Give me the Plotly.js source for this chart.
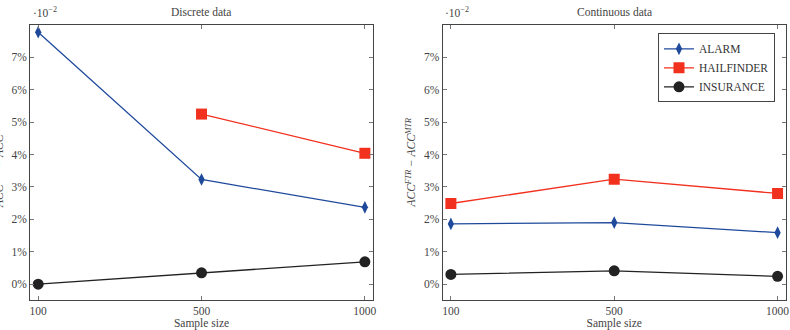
<!DOCTYPE html>
<html>
<head>
<meta charset="utf-8">
<script src="https://cdn.plot.ly/plotly-3.0.1.min.js"></script>
<style>html,body{margin:0;padding:0;background:#fff}#chart{width:790px;height:330px}</style>
</head>
<body>
<div id="chart"></div>
<script>
// Sample sizes (categorical x axis)
const sampleSizes = ['100', '500', '1000'];

// ACC^FTR - ACC^MTR, in units of 10^-2 (shown as %)
const discreteAlarm      = [7.78, 3.23, 2.37];
const discreteHailfinder = [null, 5.25, 4.04];
const discreteInsurance  = [0.00, 0.35, 0.69];

const continuousAlarm      = [1.86, 1.90, 1.59];
const continuousHailfinder = [2.49, 3.24, 2.80];
const continuousInsurance  = [0.30, 0.41, 0.24];

const yTicks = [0, 1, 2, 3, 4, 5, 6, 7];
const yTickText = yTicks.map(v => v + '%');

const seriesNames = ['ALARM', 'HAILFINDER', 'INSURANCE'];
const colors = ['#1f4a9c', '#f2301e', '#222222'];
const symbols = ['diamond-tall', 'square', 'circle'];
const markerSizes = [9, 11, 11];

const serif = 'Liberation Serif';

function makeTrace(i, y, xa, ya, showLegend) {
  return {
    type: 'scatter', mode: 'lines+markers',
    x: sampleSizes, y: y, name: seriesNames[i],
    xaxis: xa, yaxis: ya, showlegend: showLegend,
    line: {color: colors[i], width: 1.3},
    marker: {color: colors[i], symbol: symbols[i], size: markerSizes[i]},
    hoverinfo: 'x+y+name'
  };
}

const traces = [
  makeTrace(0, discreteAlarm, 'x', 'y', false),
  makeTrace(1, discreteHailfinder, 'x', 'y', false),
  makeTrace(2, discreteInsurance, 'x', 'y', false),
  makeTrace(0, continuousAlarm, 'x2', 'y2', true),
  makeTrace(1, continuousHailfinder, 'x2', 'y2', true),
  makeTrace(2, continuousInsurance, 'x2', 'y2', true)
];

const axisCommon = {
  showline: true, linecolor: '#444', linewidth: 1, mirror: 'allticks',
  ticks: 'inside', ticklen: 4, tickcolor: '#777', tickwidth: 1,
  showgrid: false, zeroline: false,
  tickfont: {family: serif, size: 11.5, color: '#444'}
};

function xAxis(domain, anchor) {
  return Object.assign({}, axisCommon, {
    domain: domain, anchor: anchor, type: 'category',
    range: [-0.05, 2.05], fixedrange: true,
    title: {text: 'Sample size', font: {family: serif, size: 11.5, color: '#444'}, standoff: 3}
  });
}

function yAxis(anchor) {
  return Object.assign({}, axisCommon, {
    domain: [0.0909, 0.9242], anchor: anchor,
    range: [-0.49, 8.0], tickvals: yTicks, ticktext: yTickText, fixedrange: true
  });
}

const yTitle = '<i>ACC<sup>FTR</sup> − ACC<sup>MTR</sup></i>';
const ann = (x, y, text, extra) => Object.assign({
  xref: 'paper', yref: 'paper', x: x, y: y, text: text, showarrow: false,
  xanchor: 'center', yanchor: 'middle',
  font: {family: serif, size: 11.5, color: '#444'}
}, extra || {});

const layout = {
  width: 790, height: 330,
  margin: {l: 0, r: 0, t: 0, b: 0},
  paper_bgcolor: '#fff', plot_bgcolor: '#fff',
  xaxis: xAxis([0.038, 0.4722], 'y'),
  yaxis: yAxis('x'),
  xaxis2: xAxis([0.5604, 0.9946], 'y2'),
  yaxis2: yAxis('x2'),
  legend: {
    x: 0.981, y: 0.899, xanchor: 'right', yanchor: 'top',
    bgcolor: '#fff', bordercolor: '#444', borderwidth: 1,
    font: {family: serif, size: 11.5, color: '#333'},
    tracegroupgap: 0, itemwidth: 30
  },
  annotations: [
    ann(0.2545, 0.9636, 'Discrete data'),
    ann(0.7775, 0.9636, 'Continuous data'),
    ann(0.057, 0.9636, '·10<sup>−2</sup>'),
    ann(0.579, 0.9636, '·10<sup>−2</sup>'),
    ann(-0.002, 0.5076, yTitle, {textangle: -90}),
    ann(0.5203, 0.5076, yTitle, {textangle: -90})
  ]
};

Plotly.newPlot('chart', traces, layout, {displayModeBar: false, staticPlot: true});
</script>
</body>
</html>
